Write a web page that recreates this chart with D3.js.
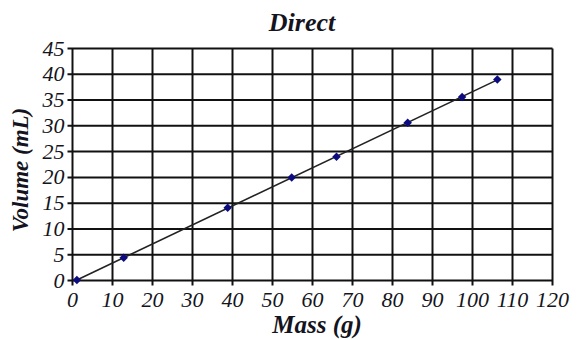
<!DOCTYPE html>
<html>
<head>
<meta charset="utf-8">
<script src="https://cdn.jsdelivr.net/npm/d3@7"></script>
<style>
  body { margin: 0; background: #fff; }
</style>
</head>
<body>
<div id="chart"></div>
<script>
// values
const massValues = [1.1, 12.8, 38.8, 54.8, 66.0, 83.8, 97.4, 106.2];
const volumeValues = [0.1, 4.4, 14.1, 20.0, 24.0, 30.6, 35.6, 39.0];
const xTicks = [0, 10, 20, 30, 40, 50, 60, 70, 80, 90, 100, 110, 120];
const yTicks = [0, 5, 10, 15, 20, 25, 30, 35, 40, 45];

const width = 585;
const height = 340;
const plotLeft = 72.5, plotRight = 552.5, plotTop = 48.5, plotBottom = 280.5;
const fontFam = '"Liberation Serif", monospace';
const ink = '#141420';

const svg = d3.select('#chart')
  .append('svg')
  .attr('width', width)
  .attr('height', height)
  .attr('font-family', fontFam);

const xScale = d3.scaleLinear().domain([0, 120]).range([plotLeft, plotRight]);
const yScale = d3.scaleLinear().domain([0, 45]).range([plotBottom, plotTop]);

// grid
svg.append('g')
  .selectAll('line')
  .data(xTicks)
  .enter()
  .append('line')
  .attr('x1', d => xScale(d)).attr('x2', d => xScale(d))
  .attr('y1', plotTop).attr('y2', plotBottom + 5)
  .attr('stroke', '#111').attr('stroke-width', 2);

svg.append('g')
  .selectAll('line')
  .data(yTicks)
  .enter()
  .append('line')
  .attr('x1', plotLeft - 5).attr('x2', plotRight)
  .attr('y1', d => yScale(d)).attr('y2', d => yScale(d))
  .attr('stroke', '#111').attr('stroke-width', 2);

// tick labels
svg.append('g')
  .selectAll('text')
  .data(xTicks)
  .enter()
  .append('text')
  .attr('x', d => xScale(d))
  .attr('y', plotBottom + 26)
  .attr('text-anchor', 'middle')
  .attr('font-family', fontFam)
  .attr('fill', ink)
  .style('font-size', '22px')
  .style('font-style', 'italic')
  .text(d => d);

svg.append('g')
  .selectAll('text')
  .data(yTicks)
  .enter()
  .append('text')
  .attr('x', plotLeft - 8)
  .attr('y', d => yScale(d) + 7)
  .attr('text-anchor', 'end')
  .attr('font-family', fontFam)
  .attr('fill', ink)
  .style('font-size', '22px')
  .style('font-style', 'italic')
  .text(d => d);

// trend line (least squares) over the data range
const mx = d3.mean(massValues), my = d3.mean(volumeValues);
const slope = d3.sum(massValues, (m, i) => (m - mx) * (volumeValues[i] - my)) /
  d3.sum(massValues, m => (m - mx) * (m - mx));
const intercept = my - slope * mx;
const xs = d3.extent(massValues);

const line = d3.line()
  .x(d => xScale(d[0]))
  .y(d => yScale(d[1]));

svg.append('path')
  .attr('d', line(xs.map(x => [x, intercept + slope * x])))
  .attr('fill', 'none')
  .attr('stroke', '#222')
  .attr('stroke-width', 1.6);

// points
svg.append('g')
  .selectAll('path')
  .data(massValues)
  .enter()
  .append('path')
  .attr('d', d3.symbol().type(d3.symbolSquare).size(36))
  .attr('transform', (d, i) => 'translate(' + xScale(d) + ',' + yScale(volumeValues[i]) + ') rotate(45)')
  .attr('fill', '#0c0c80');

// titles
svg.append('text')
  .attr('x', 302)
  .attr('y', 31)
  .attr('text-anchor', 'middle')
  .attr('font-family', fontFam)
  .attr('fill', ink)
  .style('font-size', '26px')
  .style('font-weight', 'bold')
  .style('font-style', 'italic')
  .text('Direct');

svg.append('text')
  .attr('x', 317)
  .attr('y', 333)
  .attr('text-anchor', 'middle')
  .attr('font-family', fontFam)
  .attr('fill', ink)
  .style('font-size', '25px')
  .style('font-weight', 'bold')
  .style('font-style', 'italic')
  .text('Mass (g)');

svg.append('text')
  .attr('transform', 'translate(28,170) rotate(-90)')
  .attr('text-anchor', 'middle')
  .attr('font-family', fontFam)
  .attr('fill', ink)
  .style('font-size', '23px')
  .style('font-weight', 'bold')
  .style('font-style', 'italic')
  .text('Volume (mL)');
</script>
</body>
</html>
